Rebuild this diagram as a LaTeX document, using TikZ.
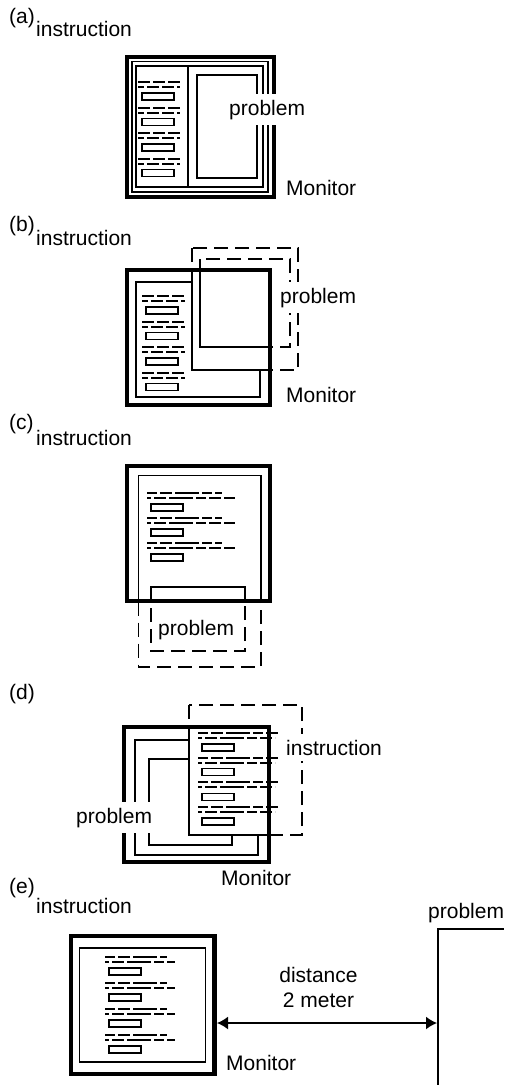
\documentclass[tikz,border=0pt]{standalone}
\usepackage{fontspec}
\setmainfont{Liberation Sans}
\usetikzlibrary{arrows.meta,positioning,calc}

\tikzset{
  frame/.style={line width=4.8pt},
  thinline/.style={line width=1.6pt},
  virt/.style={line width=1.6pt, dash pattern=on 14pt off 7pt},
  txtbox/.style={line width=1.5pt},
  shortdash/.style={line width=2pt, dash pattern=on 12pt off 3pt},
  longdash/.style={line width=2pt, dash pattern=on 10pt off 3pt on 12pt off 3pt on 24pt off 3pt},
  lbl/.style={font=\fontsize{21}{25}\selectfont, inner xsep=1pt, inner ysep=6pt, anchor=base west},
  cut/.style={lbl, fill=white},
}

% screen text: x, y, groups, step, len1, len2, dash style
\newcommand{\txtlines}[7]{%
  \foreach \k in {1,...,#3}{%
    \pgfmathsetmacro{\yy}{#2+(\k-1)*#4}
    \draw[#7] (#1,\yy) -- ++(#5,0);
    \draw[#7, dash phase=6pt] (#1,\yy+5) -- ++(#6,0);
    \draw[txtbox] (#1+4,\yy+11) rectangle ++(32,7);
  }}

\begin{document}
\begin{tikzpicture}[x=1pt, y=-1pt]
    \useasboundingbox (0,0) rectangle (504,1085);

    % (a) side by side
    \draw[thinline] (132,61.5) rectangle (268,192);
    \draw[thinline] (136,66) rectangle (188,187);
    \draw[thinline] (188,66) rectangle (263,187);
    \draw[thinline] (197,75) rectangle (257,178);
    \txtlines{138}{82}{4}{25.5}{42}{42}{shortdash}
    \draw[frame] (127,57) rectangle (274,197);

    % (b) problem window over the corner
    \draw[thinline] (136,282) rectangle (260,397);
    \txtlines{142}{296}{4}{25.5}{43}{43}{shortdash}
    \fill[white] (192,248) rectangle (298,370);
    \draw[virt] (192,248) rectangle (298,370);
    \draw[virt] (200,259) rectangle (290,347);
    \begin{scope}
        \clip (127,270) rectangle (270,405);
        \draw[thinline] (192,248) rectangle (298,370);
        \draw[thinline] (200,259) rectangle (290,347);
    \end{scope}
    \draw[frame] (127,270) rectangle (270,405);

    % (c) problem below
    \txtlines{147}{493}{3}{25}{75}{88}{longdash}
    \draw[virt] (138.5,475.5) rectangle (261,667);
    \draw[virt] (151,587) rectangle (245,651);
    \begin{scope}
        \clip (127,466) rectangle (270,601);
        \draw[thinline] (138.5,475.5) rectangle (261,667);
        \draw[thinline] (151,587) rectangle (245,651);
    \end{scope}
    \draw[frame] (127,466) rectangle (270,601);

    % (d) instruction over problem
    \draw[thinline] (135,740) rectangle (258,855);
    \draw[thinline] (149,759) rectangle (232,845);
    \fill[white] (189,705) rectangle (302,835);
    \draw[virt] (189,705) rectangle (302,835);
    \begin{scope}
        \clip (124,727) rectangle (269,862);
        \draw[thinline] (189,705) rectangle (302,835);
    \end{scope}
    \draw[frame] (124,727) rectangle (269,862);
    \txtlines{198}{733}{4}{24.7}{82}{77}{longdash}

    % (e) problem 2 m away
    \draw[frame] (71,936) rectangle (214.5,1074);
    \draw[thinline] (79.5,948) rectangle (205.5,1062);
    \txtlines{105}{957}{4}{26}{62}{70}{longdash}
    \draw[thinline] (438,1085) -- (438,929) -- (504,929);
    \coordinate (monR) at (217,1023);
    \coordinate (wallL) at (437,1023);
    \draw[line width=1.6pt, {Latex[length=11pt,width=13pt]}-{Latex[length=11pt,width=13pt]}] (monR) -- (wallL);

    % labels
    \node[lbl] (tagA) at (8,23) {(a)};
    \node[lbl] (instA) at (35,36) {instruction};
    \node[cut] (probA) at (228,115) {problem};
    \node[lbl] (monA) at (285,195) {Monitor};

    \node[lbl] (tagB) at (8,231) {(b)};
    \node[lbl] (instB) at (35,245) {instruction};
    \node[cut] (probB) at (279,303) {problem};
    \node[lbl] (monB) at (285,402) {Monitor};

    \node[lbl] (tagC) at (8,429) {(c)};
    \node[lbl] (instC) at (35,445) {instruction};
    \node[lbl] (probC) at (157,635) {problem};

    \node[lbl] (tagD) at (8,699) {(d)};
    \node[cut] (instD) at (285,755) {instruction};
    \node[cut] (probD) at (75,823) {problem};
    \node[lbl] (monD) at (220,885) {Monitor};

    \node[lbl] (tagE) at (8,893) {(e)};
    \node[lbl] (instE) at (35,913) {instruction};
    \node[lbl] (probE) at (427,918) {problem};
    \node[lbl, anchor=north, align=center] (dist) at (318.5,961) {distance\\2 meter};
    \node[lbl] (monE) at (225,1070) {Monitor};
\end{tikzpicture}
\end{document}
